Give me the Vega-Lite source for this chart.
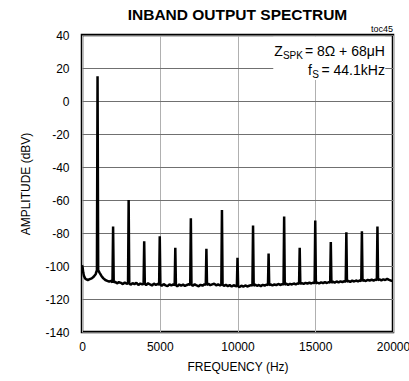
{
  "$schema": "https://vega.github.io/schema/vega-lite/v6.json",
  "width": 311,
  "height": 297,
  "autosize": {"type": "none"},
  "padding": {"left": 82, "top": 35, "right": 16, "bottom": 49},
  "background": "white",
  "config": {
    "view": {"stroke": "black", "strokeWidth": 2.5},
    "font": "Liberation Sans",
    "axis": {"labelFont": "Liberation Sans", "titleFont": "Liberation Sans", "labelFontSize": 12, "titleFontSize": 12, "labelColor": "black", "titleColor": "black", "titleFontWeight": "normal", "domain": false, "ticks": false, "labelFlush": false, "labelOverlap": false, "labelBound": false, "grid": true, "gridWidth": 1},
    "axisX": {"gridColor": "#b0b0b0", "labelPadding": 9, "titlePadding": 9},
    "axisY": {"gridColor": "#707070", "labelPadding": 13, "titlePadding": 12},
    "text": {"font": "Liberation Sans", "fill": "black"}
  },
  "datasets": {
    "one": [{}]
  },
  "data": {
    "values": [
      {"freq": 0, "amp": -99.5}, {"freq": 40, "amp": -101}, {"freq": 80, "amp": -104}, {"freq": 125, "amp": -106}, {"freq": 200, "amp": -107.5}, {"freq": 250, "amp": -108}, {"freq": 375, "amp": -108.5}, {"freq": 500, "amp": -108}, {"freq": 625, "amp": -107.5}, {"freq": 750, "amp": -106.5}, {"freq": 875, "amp": -105}, {"freq": 960, "amp": -102.5},
      {"freq": 1000, "amp": 15},
      {"freq": 1040, "amp": -102.5}, {"freq": 1125, "amp": -104}, {"freq": 1250, "amp": -106}, {"freq": 1375, "amp": -107.5}, {"freq": 1500, "amp": -108.5}, {"freq": 1625, "amp": -109}, {"freq": 1750, "amp": -109.5}, {"freq": 1875, "amp": -109}, {"freq": 1960, "amp": -110},
      {"freq": 2000, "amp": -76},
      {"freq": 2040, "amp": -110}, {"freq": 2125, "amp": -109.5}, {"freq": 2250, "amp": -110.5}, {"freq": 2375, "amp": -109.8}, {"freq": 2500, "amp": -110.2}, {"freq": 2625, "amp": -111}, {"freq": 2750, "amp": -110}, {"freq": 2875, "amp": -110.8}, {"freq": 2960, "amp": -110.5},
      {"freq": 3000, "amp": -60},
      {"freq": 3040, "amp": -110.5}, {"freq": 3125, "amp": -111.3}, {"freq": 3250, "amp": -110.4}, {"freq": 3375, "amp": -111}, {"freq": 3500, "amp": -110.2}, {"freq": 3625, "amp": -111.5}, {"freq": 3750, "amp": -110.6}, {"freq": 3875, "amp": -111.2}, {"freq": 3960, "amp": -110.8},
      {"freq": 4000, "amp": -85},
      {"freq": 4040, "amp": -110.8}, {"freq": 4125, "amp": -111.5}, {"freq": 4250, "amp": -110.5}, {"freq": 4375, "amp": -111.2}, {"freq": 4500, "amp": -111.8}, {"freq": 4625, "amp": -110.7}, {"freq": 4750, "amp": -111.4}, {"freq": 4875, "amp": -110.9}, {"freq": 4960, "amp": -111.3},
      {"freq": 5000, "amp": -82},
      {"freq": 5040, "amp": -111.3}, {"freq": 5125, "amp": -111.9}, {"freq": 5250, "amp": -111}, {"freq": 5375, "amp": -111.7}, {"freq": 5500, "amp": -112.2}, {"freq": 5625, "amp": -111.1}, {"freq": 5750, "amp": -111.8}, {"freq": 5875, "amp": -111.2}, {"freq": 5960, "amp": -111.6},
      {"freq": 6000, "amp": -89},
      {"freq": 6040, "amp": -111.6}, {"freq": 6125, "amp": -112.3}, {"freq": 6250, "amp": -111.2}, {"freq": 6375, "amp": -111.9}, {"freq": 6500, "amp": -111.3}, {"freq": 6625, "amp": -112.1}, {"freq": 6750, "amp": -111.5}, {"freq": 6875, "amp": -111}, {"freq": 6960, "amp": -111.4},
      {"freq": 7000, "amp": -71},
      {"freq": 7040, "amp": -111.4}, {"freq": 7125, "amp": -112}, {"freq": 7250, "amp": -111.1}, {"freq": 7375, "amp": -111.8}, {"freq": 7500, "amp": -112.3}, {"freq": 7625, "amp": -111.4}, {"freq": 7750, "amp": -111.9}, {"freq": 7875, "amp": -111}, {"freq": 7960, "amp": -111.5},
      {"freq": 8000, "amp": -89.5},
      {"freq": 8040, "amp": -111.5}, {"freq": 8125, "amp": -110.8}, {"freq": 8250, "amp": -111.6}, {"freq": 8375, "amp": -111.1}, {"freq": 8500, "amp": -110.7}, {"freq": 8625, "amp": -111.7}, {"freq": 8750, "amp": -111.2}, {"freq": 8875, "amp": -111.8}, {"freq": 8960, "amp": -111.3},
      {"freq": 9000, "amp": -66},
      {"freq": 9040, "amp": -111.3}, {"freq": 9125, "amp": -112}, {"freq": 9250, "amp": -111.4}, {"freq": 9375, "amp": -112.2}, {"freq": 9500, "amp": -111.6}, {"freq": 9625, "amp": -112.4}, {"freq": 9750, "amp": -111.7}, {"freq": 9875, "amp": -112.1}, {"freq": 9960, "amp": -112.3},
      {"freq": 10000, "amp": -95},
      {"freq": 10040, "amp": -112.3}, {"freq": 10125, "amp": -112.8}, {"freq": 10250, "amp": -111.9}, {"freq": 10375, "amp": -112.5}, {"freq": 10500, "amp": -111.8}, {"freq": 10625, "amp": -112.4}, {"freq": 10750, "amp": -112}, {"freq": 10875, "amp": -111.6}, {"freq": 10960, "amp": -111.9},
      {"freq": 11000, "amp": -75.5},
      {"freq": 11040, "amp": -111.9}, {"freq": 11125, "amp": -111.3}, {"freq": 11250, "amp": -112}, {"freq": 11375, "amp": -111.5}, {"freq": 11500, "amp": -112.2}, {"freq": 11625, "amp": -111.4}, {"freq": 11750, "amp": -111.9}, {"freq": 11875, "amp": -111.2}, {"freq": 11960, "amp": -111.7},
      {"freq": 12000, "amp": -92.5},
      {"freq": 12040, "amp": -111.7}, {"freq": 12125, "amp": -111.1}, {"freq": 12250, "amp": -111.8}, {"freq": 12375, "amp": -111.2}, {"freq": 12500, "amp": -111.6}, {"freq": 12625, "amp": -110.9}, {"freq": 12750, "amp": -111.5}, {"freq": 12875, "amp": -111}, {"freq": 12960, "amp": -111.3},
      {"freq": 13000, "amp": -70},
      {"freq": 13040, "amp": -111.3}, {"freq": 13125, "amp": -110.7}, {"freq": 13250, "amp": -111.4}, {"freq": 13375, "amp": -110.8}, {"freq": 13500, "amp": -111.2}, {"freq": 13625, "amp": -110.6}, {"freq": 13750, "amp": -111.1}, {"freq": 13875, "amp": -110.5}, {"freq": 13960, "amp": -110.9},
      {"freq": 14000, "amp": -89},
      {"freq": 14040, "amp": -110.9}, {"freq": 14125, "amp": -110.3}, {"freq": 14250, "amp": -110.9}, {"freq": 14375, "amp": -110.2}, {"freq": 14500, "amp": -110.7}, {"freq": 14625, "amp": -110.1}, {"freq": 14750, "amp": -110.6}, {"freq": 14875, "amp": -110}, {"freq": 14960, "amp": -110.5},
      {"freq": 15000, "amp": -72.5},
      {"freq": 15040, "amp": -110.5}, {"freq": 15125, "amp": -110}, {"freq": 15250, "amp": -110.6}, {"freq": 15375, "amp": -109.9}, {"freq": 15500, "amp": -110.4}, {"freq": 15625, "amp": -109.8}, {"freq": 15750, "amp": -110.3}, {"freq": 15875, "amp": -109.7}, {"freq": 15960, "amp": -110.1},
      {"freq": 16000, "amp": -85.5},
      {"freq": 16040, "amp": -110.1}, {"freq": 16125, "amp": -109.5}, {"freq": 16250, "amp": -110.1}, {"freq": 16375, "amp": -109.4}, {"freq": 16500, "amp": -109.9}, {"freq": 16625, "amp": -109.3}, {"freq": 16750, "amp": -109.8}, {"freq": 16875, "amp": -109.2}, {"freq": 16960, "amp": -109.6},
      {"freq": 17000, "amp": -79.5},
      {"freq": 17040, "amp": -109.6}, {"freq": 17125, "amp": -109}, {"freq": 17250, "amp": -109.6}, {"freq": 17375, "amp": -108.9}, {"freq": 17500, "amp": -109.4}, {"freq": 17625, "amp": -108.8}, {"freq": 17750, "amp": -109.3}, {"freq": 17875, "amp": -108.7}, {"freq": 17960, "amp": -109.1},
      {"freq": 18000, "amp": -79},
      {"freq": 18040, "amp": -109.1}, {"freq": 18125, "amp": -108.5}, {"freq": 18250, "amp": -109.1}, {"freq": 18375, "amp": -108.4}, {"freq": 18500, "amp": -108.9}, {"freq": 18625, "amp": -108.3}, {"freq": 18750, "amp": -108.8}, {"freq": 18875, "amp": -108.2}, {"freq": 18960, "amp": -108.6},
      {"freq": 19000, "amp": -76},
      {"freq": 19040, "amp": -108.6}, {"freq": 19125, "amp": -108}, {"freq": 19250, "amp": -108.7}, {"freq": 19375, "amp": -108.1}, {"freq": 19500, "amp": -108.5}, {"freq": 19625, "amp": -107.8}, {"freq": 19750, "amp": -108.4}, {"freq": 19875, "amp": -108.9}, {"freq": 20000, "amp": -109}
    ]
  },
  "layer": [
    {
      "mark": {"type": "line", "stroke": "black", "strokeWidth": 2.5, "strokeJoin": "bevel", "clip": true},
      "encoding": {
        "x": {"field": "freq", "type": "quantitative", "scale": {"domain": [0, 20000], "nice": false, "zero": false},
          "axis": {"title": "FREQUENCY (Hz)", "values": [0, 5000, 10000, 15000, 20000], "labelExpr": "'' + datum.value", "labelOverlap": false}},
        "y": {"field": "amp", "type": "quantitative", "scale": {"domain": [-140, 40], "nice": false, "zero": false},
          "axis": {"title": "AMPLITUDE (dBV)", "values": [-140, -120, -100, -80, -60, -40, -20, 0, 20, 40], "labelExpr": "'' + datum.value", "labelOverlap": false}}
      }
    },
    {
      "data": {"name": "one"},
      "mark": {"type": "rect", "fill": "white"},
      "encoding": {
        "x": {"datum": 12300, "type": "quantitative", "axis": {"title": "FREQUENCY (Hz)", "values": [0, 5000, 10000, 15000, 20000], "labelExpr": "'' + datum.value", "labelOverlap": false}},
        "x2": {"datum": 19500},
        "y": {"datum": 12.7, "type": "quantitative", "axis": {"title": "AMPLITUDE (dBV)", "values": [-140, -120, -100, -80, -60, -40, -20, 0, 20, 40], "labelExpr": "'' + datum.value", "labelOverlap": false}},
        "y2": {"datum": 39}
      }
    },
    {
      "data": {"name": "one"},
      "mark": {"type": "text", "text": "INBAND OUTPUT SPECTRUM", "align": "center", "baseline": "alphabetic", "fontSize": 15.5, "fontWeight": "bold", "dy": -15},
      "encoding": {
        "x": {"datum": 10000, "type": "quantitative", "axis": {"title": "FREQUENCY (Hz)", "values": [0, 5000, 10000, 15000, 20000], "labelExpr": "'' + datum.value", "labelOverlap": false}},
        "y": {"datum": 40, "type": "quantitative", "axis": {"title": "AMPLITUDE (dBV)", "values": [-140, -120, -100, -80, -60, -40, -20, 0, 20, 40], "labelExpr": "'' + datum.value", "labelOverlap": false}}
      }
    },
    {
      "data": {"name": "one"},
      "mark": {"type": "text", "text": "= 8Ω + 68μH", "align": "right", "baseline": "alphabetic", "fontSize": 14},
      "encoding": {
        "x": {"datum": 19480, "type": "quantitative", "axis": {"title": "FREQUENCY (Hz)", "values": [0, 5000, 10000, 15000, 20000], "labelExpr": "'' + datum.value", "labelOverlap": false}},
        "y": {"datum": 27.3, "type": "quantitative", "axis": {"title": "AMPLITUDE (dBV)", "values": [-140, -120, -100, -80, -60, -40, -20, 0, 20, 40], "labelExpr": "'' + datum.value", "labelOverlap": false}}
      }
    },
    {
      "data": {"name": "one"},
      "mark": {"type": "text", "text": "SPK", "align": "right", "baseline": "alphabetic", "fontSize": 10, "dx": -82, "dy": 3},
      "encoding": {
        "x": {"datum": 19480, "type": "quantitative", "axis": {"title": "FREQUENCY (Hz)", "values": [0, 5000, 10000, 15000, 20000], "labelExpr": "'' + datum.value", "labelOverlap": false}},
        "y": {"datum": 27.3, "type": "quantitative", "axis": {"title": "AMPLITUDE (dBV)", "values": [-140, -120, -100, -80, -60, -40, -20, 0, 20, 40], "labelExpr": "'' + datum.value", "labelOverlap": false}}
      }
    },
    {
      "data": {"name": "one"},
      "mark": {"type": "text", "text": "Z", "align": "right", "baseline": "alphabetic", "fontSize": 14, "dx": -102},
      "encoding": {
        "x": {"datum": 19480, "type": "quantitative", "axis": {"title": "FREQUENCY (Hz)", "values": [0, 5000, 10000, 15000, 20000], "labelExpr": "'' + datum.value", "labelOverlap": false}},
        "y": {"datum": 27.3, "type": "quantitative", "axis": {"title": "AMPLITUDE (dBV)", "values": [-140, -120, -100, -80, -60, -40, -20, 0, 20, 40], "labelExpr": "'' + datum.value", "labelOverlap": false}}
      }
    },
    {
      "data": {"name": "one"},
      "mark": {"type": "text", "text": "= 44.1kHz", "align": "right", "baseline": "alphabetic", "fontSize": 14},
      "encoding": {
        "x": {"datum": 19480, "type": "quantitative", "axis": {"title": "FREQUENCY (Hz)", "values": [0, 5000, 10000, 15000, 20000], "labelExpr": "'' + datum.value", "labelOverlap": false}},
        "y": {"datum": 15.8, "type": "quantitative", "axis": {"title": "AMPLITUDE (dBV)", "values": [-140, -120, -100, -80, -60, -40, -20, 0, 20, 40], "labelExpr": "'' + datum.value", "labelOverlap": false}}
      }
    },
    {
      "data": {"name": "one"},
      "mark": {"type": "text", "text": "S", "align": "right", "baseline": "alphabetic", "fontSize": 10, "dx": -66, "dy": 3},
      "encoding": {
        "x": {"datum": 19480, "type": "quantitative", "axis": {"title": "FREQUENCY (Hz)", "values": [0, 5000, 10000, 15000, 20000], "labelExpr": "'' + datum.value", "labelOverlap": false}},
        "y": {"datum": 15.8, "type": "quantitative", "axis": {"title": "AMPLITUDE (dBV)", "values": [-140, -120, -100, -80, -60, -40, -20, 0, 20, 40], "labelExpr": "'' + datum.value", "labelOverlap": false}}
      }
    },
    {
      "data": {"name": "one"},
      "mark": {"type": "text", "text": "f", "align": "right", "baseline": "alphabetic", "fontSize": 14, "dx": -73},
      "encoding": {
        "x": {"datum": 19480, "type": "quantitative", "axis": {"title": "FREQUENCY (Hz)", "values": [0, 5000, 10000, 15000, 20000], "labelExpr": "'' + datum.value", "labelOverlap": false}},
        "y": {"datum": 15.8, "type": "quantitative", "axis": {"title": "AMPLITUDE (dBV)", "values": [-140, -120, -100, -80, -60, -40, -20, 0, 20, 40], "labelExpr": "'' + datum.value", "labelOverlap": false}}
      }
    },
    {
      "data": {"name": "one"},
      "mark": {"type": "text", "text": "toc45", "align": "right", "baseline": "alphabetic", "fontSize": 9, "dy": -3},
      "encoding": {
        "x": {"datum": 20000, "type": "quantitative", "axis": {"title": "FREQUENCY (Hz)", "values": [0, 5000, 10000, 15000, 20000], "labelExpr": "'' + datum.value", "labelOverlap": false}},
        "y": {"datum": 40, "type": "quantitative", "axis": {"title": "AMPLITUDE (dBV)", "values": [-140, -120, -100, -80, -60, -40, -20, 0, 20, 40], "labelExpr": "'' + datum.value", "labelOverlap": false}}
      }
    }
  ]
}
